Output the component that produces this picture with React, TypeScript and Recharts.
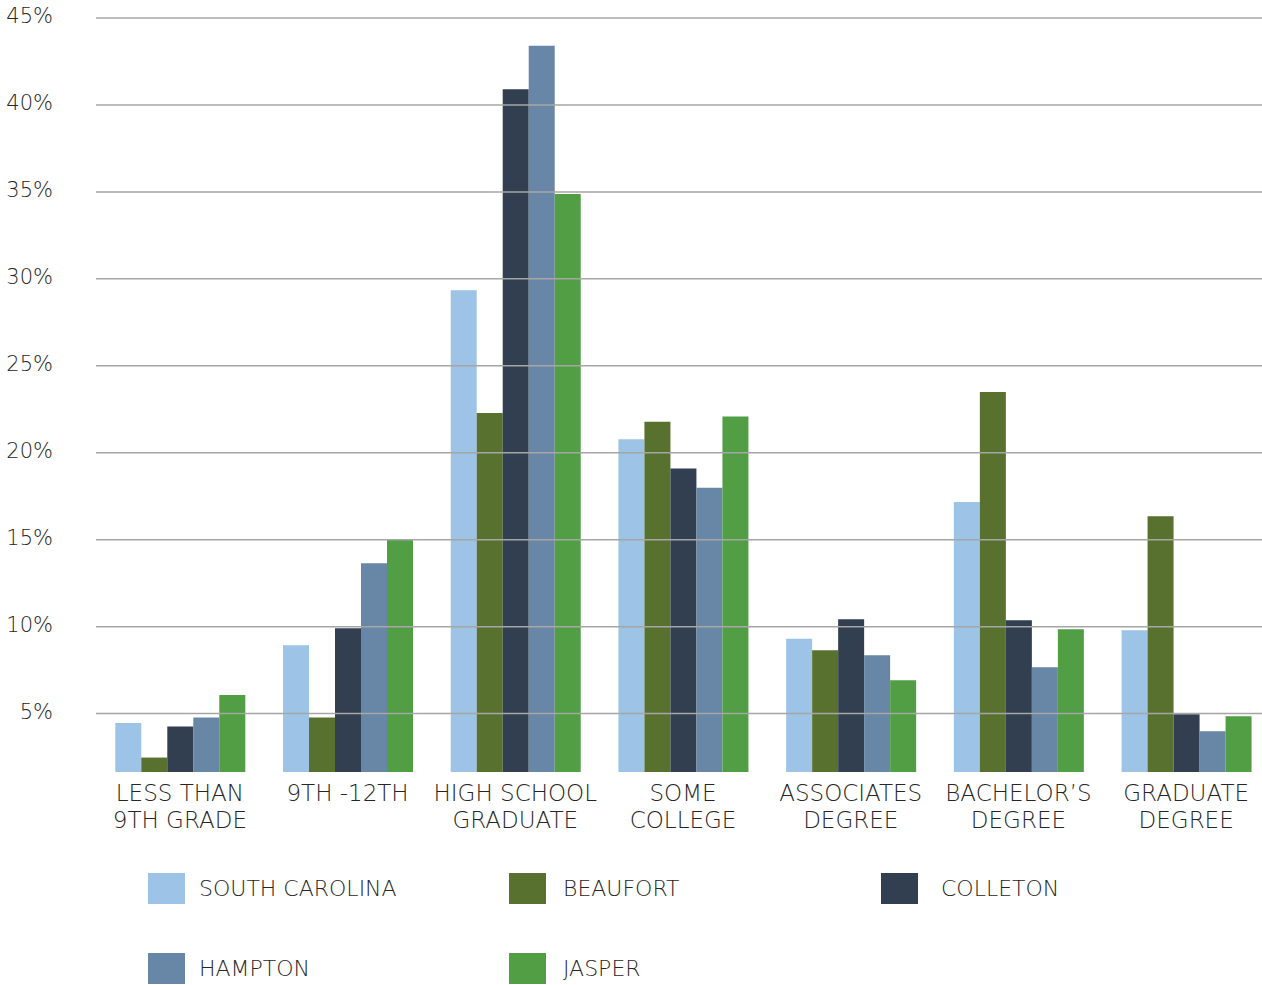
import React from "react";
import { BarChart, Bar, XAxis, YAxis, ReferenceLine } from "recharts";

const categories = [
  "LESS THAN|9TH GRADE",
  "9TH -12TH",
  "HIGH SCHOOL|GRADUATE",
  "SOME|COLLEGE",
  "ASSOCIATES|DEGREE",
  "BACHELOR\u2019S|DEGREE",
  "GRADUATE|DEGREE",
];

const southCarolina = [4.46, 8.93, 29.35, 20.77, 9.3, 17.16, 9.79];
const beaufort = [2.47, 4.77, 22.28, 21.78, 8.64, 23.49, 16.35];
const colleton = [4.25, 9.91, 40.9, 19.1, 10.43, 10.37, 4.96];
const hampton = [4.77, 13.65, 43.41, 17.98, 8.36, 7.66, 3.98];
const jasper = [6.07, 15.03, 34.88, 22.09, 6.92, 9.85, 4.85];

const yTicks = [5, 10, 15, 20, 25, 30, 35, 40, 45];

const seriesNames = ["SOUTH CAROLINA", "BEAUFORT", "COLLETON", "HAMPTON", "JASPER"];
const seriesKeys = ["sc", "beaufort", "colleton", "hampton", "jasper"];
const seriesColors = ["#9DC3E6", "#58712F", "#323F50", "#6886A6", "#519E45"];

const data = categories.map((c, i) => ({
  name: c,
  sc: southCarolina[i],
  beaufort: beaufort[i],
  colleton: colleton[i],
  hampton: hampton[i],
  jasper: jasper[i],
}));

const FONT = "'DejaVu Sans', sans-serif";
const TEXT = "#262626";

const YTick = (props: any) => {
  const { y, payload } = props;
  return (
    <text x={53} y={y} dy={5} textAnchor="end" fontFamily={FONT} fontSize={21} fill={TEXT} fontWeight={300}>
      {payload.value}%
    </text>
  );
};

const XTick = (props: any) => {
  const { x, y, payload } = props;
  const lines = String(payload.value).split("|");
  return (
    <text x={x} y={y} textAnchor="middle" fontFamily={FONT} fontSize={23} fill={TEXT} fontWeight={300}>
      {lines.map((l, i) => (
        <tspan key={i} x={x} dy={27}>
          {l}
        </tspan>
      ))}
    </text>
  );
};

const legendCols = [148, 509, 881];
const legendGaps = [14, 17, 23];
const legendRows = [873, 953];

export default function App() {
  return (
    <div
      style={{
        position: "absolute",
        left: 0,
        top: 0,
        width: 1262,
        height: 985,
        overflow: "hidden",
        background: "#fff",
        fontFamily: FONT,
      }}
    >
      <BarChart
        width={1270}
        height={832}
        data={data}
        margin={{ top: 18, right: 0, left: 0, bottom: 0 }}
        barCategoryGap="11.5%"
        barGap={0}
      >
        <XAxis
          dataKey="name"
          axisLine={false}
          tickLine={false}
          tickSize={0}
          height={60}
          interval={0}
          tick={<XTick />}
        />
        <YAxis
          type="number"
          domain={[1.64, 45]}
          ticks={yTicks}
          allowDataOverflow
          axisLine={false}
          tickLine={false}
          width={96}
          tick={<YTick />}
        />
        {yTicks.map((t) => (
          <ReferenceLine key={t} y={t} stroke="#A6A6A6" strokeWidth={1.5} />
        ))}
        {seriesKeys.map((k, i) => (
          <Bar key={k} dataKey={k} name={seriesNames[i]} fill={seriesColors[i]} isAnimationActive={false} />
        ))}
      </BarChart>
      {seriesNames.map((n, i) => {
        const col = i % 3;
        const row = Math.floor(i / 3);
        return (
          <div
            key={n}
            style={{
              position: "absolute",
              left: legendCols[col],
              top: legendRows[row],
              display: "flex",
              alignItems: "center",
              height: 31,
            }}
          >
            <div style={{ width: 37, height: 31, background: seriesColors[i] }} />
            <span
              style={{
                marginLeft: legendGaps[col],
                fontSize: 22,
                color: TEXT,
                fontWeight: 300,
                whiteSpace: "nowrap",
              }}
            >
              {n}
            </span>
          </div>
        );
      })}
    </div>
  );
}
